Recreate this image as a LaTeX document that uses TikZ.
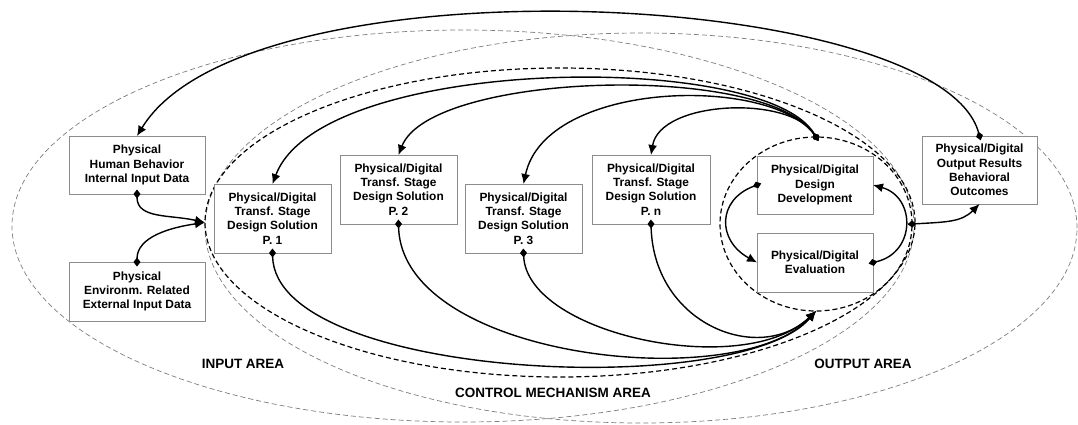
\documentclass[tikz,border=0pt]{standalone}
\usepackage{fontspec}
\setmainfont{Liberation Sans}
\usetikzlibrary{arrows.meta,shapes.geometric}
\begin{document}
\begin{tikzpicture}[x=1pt,y=-1pt,
box/.style={draw=BoxGray, fill=white, line width=0.8pt, align=center, inner sep=0pt, outer sep=0pt, font=\fontsize{11.9}{14.3}\selectfont\bfseries},
areaname/.style={font=\fontsize{13.5}{16}\selectfont\bfseries},
zone/.style={ellipse, draw=ZoneGray, line width=0.7pt, dash pattern=on 5pt off 3pt, inner sep=0pt, outer sep=0pt},
ctrlzone/.style={ellipse, draw=black, line width=1.2pt, dash pattern=on 5pt off 3pt, inner sep=0pt, outer sep=0pt},
link/.style={line width=1.4pt, {Diamond[length=9pt,width=7pt]}-{Latex[length=10pt,width=9pt]}, shorten <=-4.5pt}]
\definecolor{BoxGray}{RGB}{140,140,140}
\definecolor{ZoneGray}{RGB}{125,125,125}
\useasboundingbox (0,0) rectangle (1078,424);
\node[zone, minimum width=902pt, minimum height=392pt] (inarea) at (463,226) {};
\node[zone, minimum width=872pt, minimum height=390pt] (outarea) at (641,228) {};
\node[ctrlzone, minimum width=710pt, minimum height=309pt] (ctrl) at (560,222.5) {};
\node[ctrlzone, minimum width=192pt, minimum height=174pt] (core) at (816,224) {};
\node[box, minimum width=136pt, minimum height=58pt] (hb) at (137,165) {Physical\\Human Behavior\\Internal Input Data};
\node[box, minimum width=136pt, minimum height=59pt] (env) at (137,291.5) {Physical\\Environm. Related\\External Input Data};
\node[box, minimum width=117pt, minimum height=69pt] (p1) at (272.5,218.5) {Physical/Digital\\Transf. Stage\\Design Solution\\P. 1};
\node[box, minimum width=117pt, minimum height=69pt] (p2) at (398.5,189.5) {Physical/Digital\\Transf. Stage\\Design Solution\\P. 2};
\node[box, minimum width=117pt, minimum height=69pt] (p3) at (523.5,218.5) {Physical/Digital\\Transf. Stage\\Design Solution\\P. 3};
\node[box, minimum width=118pt, minimum height=69pt] (pn) at (651,189.5) {Physical/Digital\\Transf. Stage\\Design Solution\\P. n};
\node[box, minimum width=116pt, minimum height=58pt] (dd) at (815,185) {Physical/Digital\\Design\\Development};
\node[box, minimum width=116pt, minimum height=59pt] (ev) at (815,262.5) {Physical/Digital\\Evaluation};
\node[box, minimum width=115pt, minimum height=68pt] (out) at (979.5,170) {Physical/Digital\\Output Results\\Behavioral\\Outcomes};
\node[areaname] (inlbl) at (243,364) {INPUT AREA};
\node[areaname] (ctrllbl) at (553,393) {CONTROL MECHANISM AREA};
\node[areaname] (outlbl) at (863,364) {OUTPUT AREA};
\draw[link] (out.north) .. controls +(-40,-147) and +(110,-181) .. (hb.north);
\draw[link] (hb.south) .. controls +(0,25) and +(-35,-8) .. (ctrl.west);
\draw[link] (env.north) .. controls +(0,-25) and +(-35,5) .. (ctrl.west);
\foreach \p/\a/\b in {p1/{-50,-87}/{48,-129}, p2/{-50,-75}/{32,-83}, p3/{-46,-62}/{22,-104}, pn/{-26,-42}/{9,-55}}{
\draw[link] (core.north) .. controls +(\a) and +(\b) .. (\p.north);
}
\foreach \p/\a/\b in {p1/{3,127}/{-76,89}, p2/{4,136}/{-76,84}, p3/{4,82}/{-71,69}, pn/{3,101}/{-56,54}}{
\draw[link] (\p.south) .. controls +(\a) and +(\b) .. (core.south);
}
\draw[link] (dd.west) .. controls +(-40,15) and +(-40,-22) .. (ev.west);
\draw[link] (ev.east) .. controls +(43,-10) and +(43,12) .. (dd.east);
\draw[link] (core.east) .. controls +(35,-2) and +(-18,18) .. (out.south);
\end{tikzpicture}
\end{document}
